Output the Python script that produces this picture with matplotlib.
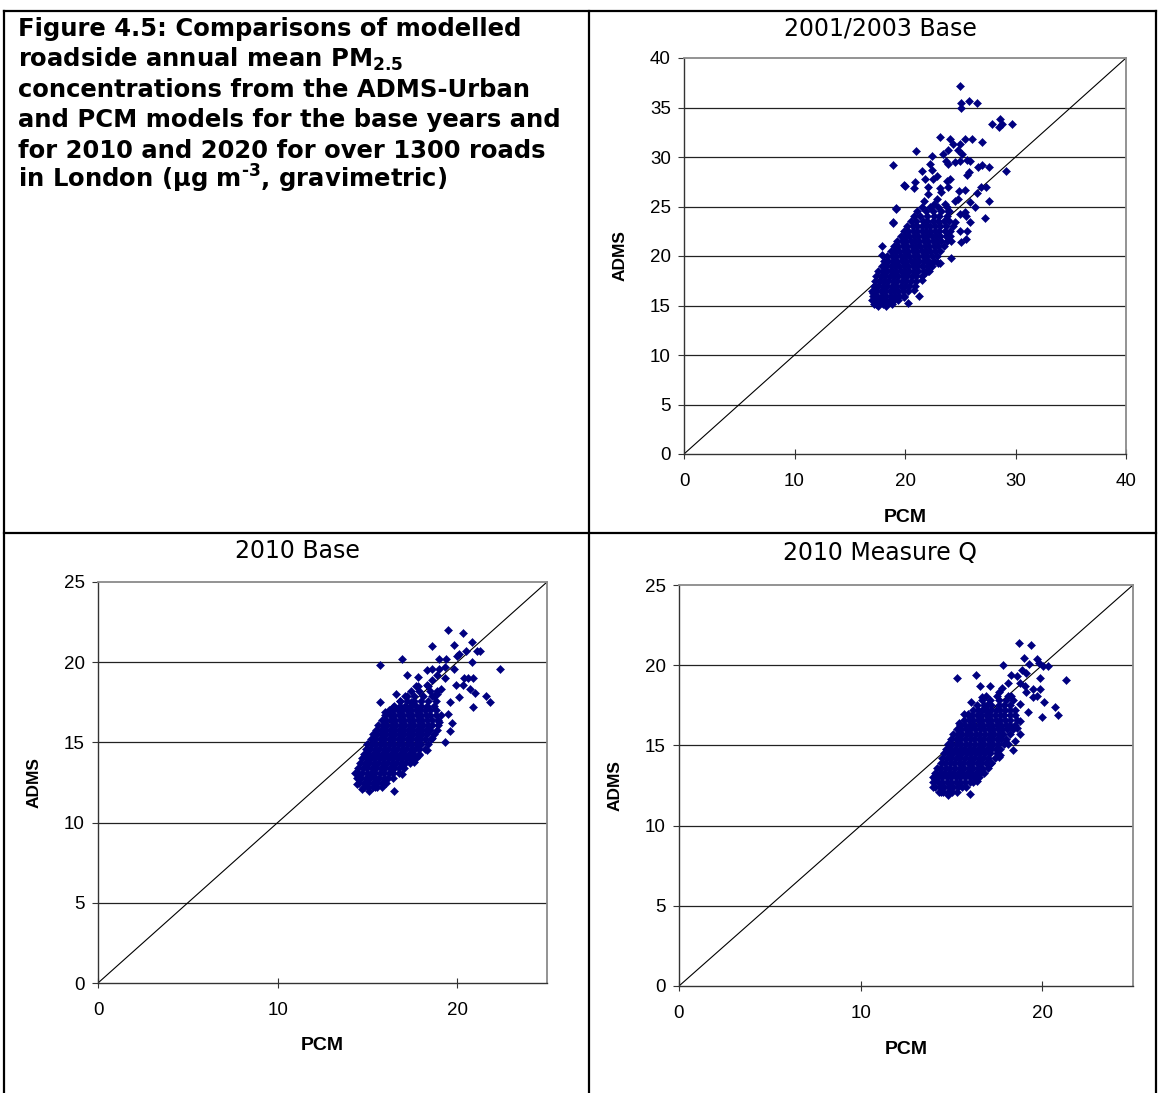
import matplotlib
matplotlib.use("Agg")
import matplotlib.pyplot as plt
from matplotlib.lines import Line2D

W, H = 1158, 1093
NAVY = '#000080'

plt.rcParams['mathtext.fontset'] = 'dejavusans'
plt.rcParams['mathtext.default'] = 'bf'

# ---- 2001/2003 Base : scattered points (PCM, ADMS)
base03_x = [25.0, 25.1, 25.8, 25.1, 26.5, 28.6, 27.9, 28.5, 28.8, 29.7, 23.2, 24.1, 24.3, 25.0,
            25.4, 26.1, 27.0, 21.0, 23.9, 23.4, 22.4, 24.8, 25.2, 24.5, 25.0, 25.6, 25.9, 23.7,
            23.9, 18.9, 22.3, 26.6, 27.0, 27.6, 29.1, 21.5, 22.4, 25.6, 25.8, 24.1, 23.8, 22.9,
            22.5, 21.8, 20.9, 19.9, 20.8, 22.1, 23.2, 23.9, 23.3, 26.9, 27.3, 26.5, 24.9, 25.4,
            27.6, 25.9, 26.3, 27.2, 25.4, 25.0, 25.5, 25.9, 25.6, 25.1, 25.5, 24.2, 19.2, 18.9,
            17.9, 23.0, 22.2, 21.9, 20.8, 19.9, 17.4, 18.2, 17.5, 17.1, 24.2, 23.9, 25.0, 24.5,
            23.9, 24.5, 24.8, 22.9, 22.1, 21.7, 22.6, 23.6, 20.3, 21.3, 21.5, 22.1, 22.3, 23.2,
            17.9, 18.9, 19.2, 20.0, 18.3, 17.6]
base03_y = [37.2, 35.5, 35.7, 35.0, 35.5, 33.8, 33.3, 33.0, 33.3, 33.3, 32.0, 31.8, 31.3, 31.3,
            31.8, 31.8, 31.5, 30.6, 30.7, 30.3, 30.1, 30.7, 30.3, 29.5, 29.6, 29.7, 29.6, 29.6,
            29.3, 29.2, 29.3, 29.0, 29.2, 29.0, 28.6, 28.6, 28.7, 28.2, 28.5, 27.8, 27.6, 28.1,
            27.8, 27.8, 27.5, 27.2, 26.9, 27.0, 26.9, 27.0, 26.5, 27.0, 27.0, 26.4, 26.6, 26.7,
            25.6, 25.5, 24.9, 23.8, 24.4, 24.2, 24.0, 23.4, 22.5, 21.4, 21.7, 19.8, 24.7, 23.4,
            21.0, 19.3, 18.5, 18.4, 16.6, 15.9, 15.2, 15.2, 15.8, 16.3, 21.5, 22.0, 22.5, 23.4,
            24.5, 25.6, 25.8, 25.8, 26.3, 25.6, 25.3, 25.3, 15.3, 16.0, 17.6, 18.5, 19.3, 19.3,
            20.1, 23.3, 24.8, 27.1, 15.0, 14.9]
# dense core: one ADMS value per row, PCM values along the row
base03_core_y = [15.2, 15.6, 16.0, 16.5, 17.0, 17.5, 18.0, 18.5, 19.0, 19.5, 20.0, 20.5,
                 21.0, 21.5, 22.0, 22.5, 23.0, 23.5, 24.0, 24.5, 25.0]
base03_core_x = [
    [17.2, 17.6, 18.0, 18.4, 18.8],
    [17.0, 17.4, 17.8, 18.2, 18.6, 19.0, 19.4],
    [17.1, 17.5, 17.9, 18.3, 18.7, 19.1, 19.5, 19.9],
    [17.0, 17.4, 17.8, 18.2, 18.6, 19.0, 19.4, 19.8, 20.3],
    [17.2, 17.6, 18.0, 18.4, 18.8, 19.2, 19.6, 20.0, 20.4, 20.9],
    [17.3, 17.7, 18.1, 18.5, 18.9, 19.3, 19.7, 20.1, 20.5, 21.0],
    [17.4, 17.8, 18.2, 18.6, 19.0, 19.4, 19.8, 20.2, 20.6, 21.0, 21.5],
    [17.6, 18.0, 18.4, 18.8, 19.2, 19.6, 20.0, 20.4, 20.8, 21.2, 21.7],
    [17.9, 18.3, 18.7, 19.1, 19.5, 19.9, 20.3, 20.7, 21.1, 21.5, 22.0, 22.4],
    [18.1, 18.5, 18.9, 19.3, 19.7, 20.1, 20.5, 20.9, 21.3, 21.7, 22.1, 22.6],
    [18.4, 18.8, 19.2, 19.6, 20.0, 20.4, 20.8, 21.2, 21.6, 22.0, 22.4, 22.9],
    [18.7, 19.1, 19.5, 19.9, 20.3, 20.7, 21.1, 21.5, 21.9, 22.3, 22.7, 23.2],
    [19.0, 19.4, 19.8, 20.2, 20.6, 21.0, 21.4, 21.8, 22.2, 22.6, 23.0, 23.5],
    [19.3, 19.7, 20.1, 20.5, 20.9, 21.3, 21.7, 22.1, 22.5, 22.9, 23.3, 23.8],
    [19.6, 20.0, 20.4, 20.8, 21.2, 21.6, 22.0, 22.4, 22.8, 23.2, 23.7, 24.1],
    [19.9, 20.3, 20.7, 21.1, 21.5, 21.9, 22.3, 22.7, 23.1, 23.6, 24.1],
    [20.2, 20.7, 21.1, 21.5, 21.9, 22.3, 22.7, 23.2, 23.7, 24.3],
    [20.5, 21.0, 21.6, 22.0, 22.5, 23.0, 23.5, 24.0],
    [20.8, 21.4, 22.0, 22.6, 23.1, 23.8],
    [21.1, 21.9, 22.5, 23.3, 24.0],
    [21.5, 22.3, 23.0, 23.8],
]

# ---- 2010 Base
b10_x = [19.5, 20.3, 18.6, 19.8, 20.8, 20.5, 20.0, 20.1, 21.1, 21.25, 16.9, 15.7, 19.0, 19.4,
         20.8, 22.4, 19.8, 18.3, 18.6, 19.0, 19.3, 17.2, 17.8, 18.6, 18.9, 19.3, 20.4, 20.6,
         20.9, 19.96, 20.3, 20.7, 21.0, 21.6, 21.8, 20.9, 20.1, 19.6, 19.1, 18.9, 18.7, 16.6,
         15.7, 16.0, 16.4, 16.8, 17.1, 16.9, 17.4, 17.7, 18.3, 19.5, 19.7, 19.6, 19.3, 19.0,
         18.6, 18.3, 17.9, 17.6, 16.9, 16.9, 16.5, 15.4, 15.1, 14.7, 14.4, 14.3, 14.6, 15.3]
b10_y = [22.0, 21.8, 21.0, 21.1, 21.25, 20.7, 20.4, 20.5, 20.7, 20.7, 20.2, 19.8, 20.2, 20.2,
         20.0, 19.6, 19.6, 19.5, 19.6, 19.6, 19.7, 19.2, 19.1, 18.9, 19.2, 19.0, 19.0, 19.0,
         19.0, 18.6, 18.6, 18.3, 18.1, 17.9, 17.5, 17.2, 17.8, 17.5, 18.3, 18.0, 17.9, 18.0,
         17.5, 16.9, 17.2, 17.6, 17.9, 17.1, 17.5, 18.5, 18.6, 16.8, 16.2, 15.7, 15.0, 16.3,
         15.3, 14.5, 14.2, 13.8, 13.5, 13.0, 12.0, 12.2, 11.97, 12.1, 12.4, 13.1, 12.8, 12.9]
b10_core_y = [12.2, 12.5, 12.8, 13.1, 13.4, 13.7, 14.0, 14.3, 14.6, 14.9, 15.2, 15.5, 15.8,
              16.1, 16.4, 16.7, 17.0, 17.3, 17.6, 17.9, 18.2, 18.5]
b10_core_x = [
    [14.8, 15.05, 15.3, 15.55, 15.8],
    [14.55, 14.8, 15.05, 15.3, 15.55, 15.8, 16.05],
    [14.4, 14.65, 14.9, 15.15, 15.4, 15.65, 15.9, 16.15, 16.45],
    [14.45, 14.7, 14.95, 15.2, 15.45, 15.7, 15.95, 16.2, 16.45, 16.75],
    [14.5, 14.75, 15.0, 15.25, 15.5, 15.75, 16.0, 16.25, 16.5, 16.75, 17.05],
    [14.6, 14.85, 15.1, 15.35, 15.6, 15.85, 16.1, 16.35, 16.6, 16.85, 17.1, 17.35],
    [14.7, 14.95, 15.2, 15.45, 15.7, 15.95, 16.2, 16.45, 16.7, 16.95, 17.2, 17.45, 17.7],
    [14.8, 15.05, 15.3, 15.55, 15.8, 16.05, 16.3, 16.55, 16.8, 17.05, 17.3, 17.55, 17.85],
    [14.9, 15.15, 15.4, 15.65, 15.9, 16.15, 16.4, 16.65, 16.9, 17.15, 17.4, 17.65, 17.9, 18.2],
    [15.0, 15.25, 15.5, 15.75, 16.0, 16.25, 16.5, 16.75, 17.0, 17.25, 17.5, 17.75, 18.0, 18.35],
    [15.2, 15.45, 15.7, 15.95, 16.2, 16.45, 16.7, 16.95, 17.2, 17.45, 17.7, 17.95, 18.2, 18.55],
    [15.3, 15.55, 15.8, 16.05, 16.3, 16.55, 16.8, 17.05, 17.3, 17.55, 17.8, 18.05, 18.3, 18.7],
    [15.5, 15.75, 16.0, 16.25, 16.5, 16.75, 17.0, 17.25, 17.5, 17.75, 18.0, 18.25, 18.5, 18.85],
    [15.6, 15.85, 16.1, 16.35, 16.6, 16.85, 17.1, 17.35, 17.6, 17.85, 18.1, 18.35, 18.6, 18.95],
    [15.8, 16.05, 16.3, 16.55, 16.8, 17.05, 17.3, 17.55, 17.8, 18.05, 18.3, 18.6, 18.95],
    [16.0, 16.25, 16.5, 16.75, 17.0, 17.25, 17.5, 17.75, 18.0, 18.25, 18.5, 18.8, 19.1],
    [16.2, 16.45, 16.7, 16.95, 17.2, 17.45, 17.7, 17.95, 18.2, 18.5, 18.8],
    [16.5, 16.8, 17.1, 17.4, 17.7, 18.0, 18.3, 18.7],
    [16.8, 17.2, 17.6, 18.0, 18.4, 18.8],
    [17.2, 17.6, 18.1, 18.6],
    [17.4, 17.9, 18.5, 18.9],
    [17.8, 18.4],
]

# ---- 2010 Measure Q
mq_x = [18.74, 19.4, 18.99, 19.7, 19.8, 20.06, 20.3, 17.86, 19.3, 18.9, 19.1, 19.9, 21.3, 15.3,
        16.35, 18.26, 18.6, 18.8, 18.1, 17.8, 17.1, 16.6, 17.6, 19.05, 19.1, 19.5, 19.9, 19.7,
        19.5, 20.1, 20.7, 20.85, 20.0, 19.2, 18.8, 18.3, 16.7, 17.0, 16.8, 16.1, 15.7, 15.9,
        15.4, 18.8, 18.6, 18.8, 18.5, 18.1, 18.4, 17.7, 17.6, 17.2, 16.7, 16.4, 16.0, 14.8,
        14.4, 14.0, 14.1]
mq_y = [21.37, 21.26, 20.48, 20.36, 20.15, 19.94, 19.94, 20.0, 20.1, 19.7, 19.5, 19.2, 19.05,
        19.2, 19.4, 19.4, 19.3, 18.9, 18.9, 18.6, 18.7, 18.7, 18.3, 18.7, 18.3, 18.5, 18.5,
        18.1, 18.0, 17.7, 17.4, 16.9, 16.8, 17.1, 17.6, 18.1, 18.0, 17.6, 17.3, 17.7, 16.95,
        16.95, 16.4, 16.5, 16.1, 15.7, 15.3, 15.1, 14.7, 14.4, 14.3, 13.9, 13.5, 12.8, 12.0,
        11.9, 12.1, 12.4, 12.9]
mq_core_y = [12.1, 12.4, 12.7, 13.0, 13.3, 13.6, 13.9, 14.2, 14.5, 14.8, 15.1, 15.4, 15.7,
             16.0, 16.3, 16.6, 16.9, 17.2, 17.5, 17.8, 18.1]
mq_core_x = [
    [14.3, 14.55, 14.8, 15.05, 15.3],
    [14.1, 14.35, 14.6, 14.85, 15.1, 15.35, 15.6, 15.8],
    [14.0, 14.25, 14.5, 14.75, 15.0, 15.25, 15.5, 15.75, 16.0, 16.2],
    [14.0, 14.25, 14.5, 14.75, 15.0, 15.25, 15.5, 15.75, 16.0, 16.25, 16.5],
    [14.1, 14.35, 14.6, 14.85, 15.1, 15.35, 15.6, 15.85, 16.1, 16.35, 16.6, 16.8],
    [14.2, 14.45, 14.7, 14.95, 15.2, 15.45, 15.7, 15.95, 16.2, 16.45, 16.7, 17.0],
    [14.4, 14.65, 14.9, 15.15, 15.4, 15.65, 15.9, 16.15, 16.4, 16.65, 16.9, 17.2],
    [14.5, 14.75, 15.0, 15.25, 15.5, 15.75, 16.0, 16.25, 16.5, 16.75, 17.0, 17.4],
    [14.6, 14.85, 15.1, 15.35, 15.6, 15.85, 16.1, 16.35, 16.6, 16.85, 17.1, 17.5],
    [14.7, 14.95, 15.2, 15.45, 15.7, 15.95, 16.2, 16.45, 16.7, 16.95, 17.2, 17.45, 17.7],
    [14.8, 15.05, 15.3, 15.55, 15.8, 16.05, 16.3, 16.55, 16.8, 17.05, 17.3, 17.55, 17.9],
    [15.0, 15.25, 15.5, 15.75, 16.0, 16.25, 16.5, 16.75, 17.0, 17.25, 17.5, 17.75, 18.0],
    [15.1, 15.35, 15.6, 15.85, 16.1, 16.35, 16.6, 16.85, 17.1, 17.35, 17.6, 17.85, 18.2],
    [15.3, 15.55, 15.8, 16.05, 16.3, 16.55, 16.8, 17.05, 17.3, 17.55, 17.8, 18.05, 18.4],
    [15.5, 15.75, 16.0, 16.25, 16.5, 16.75, 17.0, 17.25, 17.5, 17.75, 18.0, 18.25, 18.5],
    [15.7, 15.95, 16.2, 16.45, 16.7, 16.95, 17.2, 17.45, 17.7, 17.95, 18.2, 18.6],
    [15.9, 16.15, 16.4, 16.65, 16.9, 17.15, 17.4, 17.65, 17.9, 18.2, 18.5],
    [16.2, 16.45, 16.7, 16.95, 17.2, 17.45, 17.7, 17.95, 18.2, 18.5],
    [16.4, 16.8, 17.2, 17.6, 17.9, 18.2],
    [16.7, 17.1, 17.6, 18.0, 18.4],
    [16.9, 17.5, 18.1],
]

caption = [
    "Figure 4.5: Comparisons of modelled",
    "roadside annual mean PM$_{2.5}$",
    "concentrations from the ADMS-Urban",
    "and PCM models for the base years and",
    "for 2010 and 2020 for over 1300 roads",
    "in London (\u03bcg m$^{\u2010 3}$, gravimetric)",
]


def rows_to_points(core_y, core_x):
    xs, ys = [], []
    for yv, row in zip(core_y, core_x):
        for xv in row:
            xs.append(xv)
            ys.append(yv)
    return xs, ys


def px_axes(l, t, r, b):
    return [l / W, 1 - b / H, (r - l) / W, (b - t) / H]


def draw_panel(rect, sx, sy, core_y, core_x, vmax, yticks, xticks, title, title_xy):
    l, t, r, b = rect
    ax = fig.add_axes(px_axes(l, t, r, b))
    ax.set_xlim(0, vmax)
    ax.set_ylim(0, vmax)
    for yv in yticks[1:-1]:
        ax.axhline(yv, color='#222222', lw=0.9, zorder=1)
    ax.plot([0, vmax], [0, vmax], color='black', lw=0.8, zorder=2)
    cx, cy = rows_to_points(core_y, core_x)
    ax.plot(cx + sx, cy + sy, 'D', ms=3.7, color=NAVY, mec=NAVY, mew=0.4, zorder=3)

    ax.set_xticks(xticks)
    ax.set_yticks(yticks)
    for s in ['left', 'bottom']:
        ax.spines[s].set_color('#333333')
        ax.spines[s].set_linewidth(1.0)
    for s in ['top', 'right']:
        ax.spines[s].set_color('#8a8a8a')
        ax.spines[s].set_linewidth(1.3)
    ax.tick_params(axis='y', direction='out', length=4.5, width=0.8, color='#333333',
                   pad=5, labelsize=13.5)
    ax.tick_params(axis='x', direction='inout', length=7, width=0.8, color='#333333',
                   pad=10, labelsize=13.5)
    for lab in ax.get_xticklabels() + ax.get_yticklabels():
        lab.set_fontfamily('Liberation Sans')

    ax.set_xlabel('PCM', fontsize=14, fontweight='bold', family='Liberation Sans', va='center')
    ax.xaxis.set_label_coords(0.5, -63 / (b - t))
    ax.set_ylabel('ADMS', fontsize=12.5, fontweight='bold', family='Liberation Sans', va='center')
    ax.yaxis.set_label_coords(-64 / (r - l), 0.5)

    fig.text(title_xy[0] / W, 1 - title_xy[1] / H, title, fontsize=17, family='DejaVu Sans',
             ha='center', va='center')
    return ax


fig = plt.figure(figsize=(W / 100, H / 100), dpi=100)

# table frame around the four cells
frame = [
    ((4, 11), (1156, 11)),
    ((4, 11), (4, 1093)),
    ((1156, 11), (1156, 1093)),
    ((589, 11), (589, 1093)),
    ((4, 533), (1156, 533)),
]
for (x0, y0), (x1, y1) in frame:
    fig.add_artist(Line2D([x0 / W, x1 / W], [1 - y0 / H, 1 - y1 / H],
                          transform=fig.transFigure, color='black', lw=1.6))

baselines = [36, 67, 97, 127, 158, 188]
for line, yb in zip(caption, baselines):
    fig.text(18 / W, 1 - yb / H, line, fontsize=17.5, fontweight='bold',
             family='DejaVu Sans', ha='left', va='baseline')

draw_panel((684, 58, 1126, 454), base03_x, base03_y, base03_core_y, base03_core_x,
           40, [0, 5, 10, 15, 20, 25, 30, 35, 40], [0, 10, 20, 30, 40],
           '2001/2003 Base', (880, 29))
draw_panel((98, 582, 547, 983), b10_x, b10_y, b10_core_y, b10_core_x,
           25, [0, 5, 10, 15, 20, 25], [0, 10, 20],
           '2010 Base', (297, 551))
draw_panel((679, 585, 1133, 986), mq_x, mq_y, mq_core_y, mq_core_x,
           25, [0, 5, 10, 15, 20, 25], [0, 10, 20],
           '2010 Measure Q', (880, 553))

fig.savefig('out.png', dpi=100)
